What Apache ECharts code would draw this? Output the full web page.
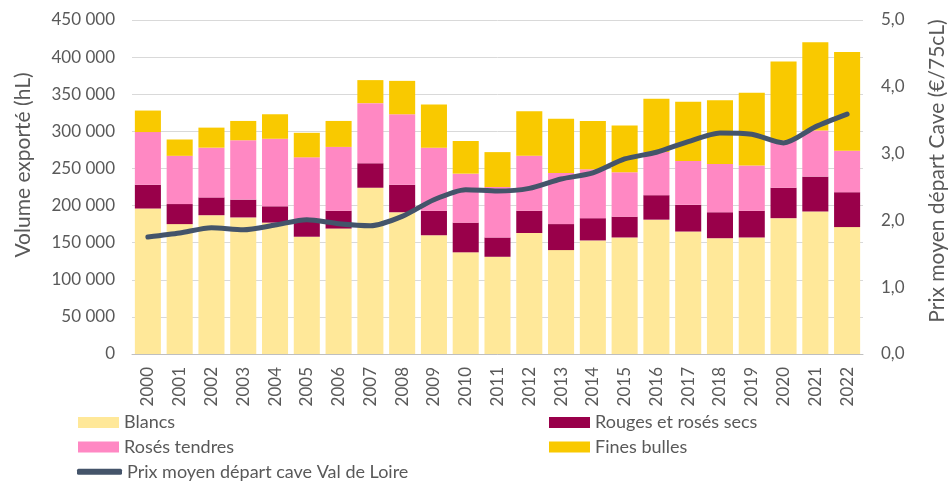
<!DOCTYPE html>
<html><head><meta charset="utf-8">
<script src="https://cdn.jsdelivr.net/npm/echarts@6/dist/echarts.min.js"></script>
<style>html,body{margin:0;padding:0;background:#fff}#c{width:949px;height:481px}</style>
</head><body><div id="c"></div>
<script>
const years = ['2000','2001','2002','2003','2004','2005','2006','2007','2008','2009','2010','2011','2012','2013','2014','2015','2016','2017','2018','2019','2020','2021','2022'];
const blancs = [196000,175000,187000,184000,177000,158000,169000,224000,191000,160000,137000,131000,163000,140000,153000,157000,181000,165000,156000,157000,183000,192000,171000];
const rouges = [32000,27000,24000,24000,22000,21000,24000,33000,37000,33000,40000,26000,30000,35000,30000,28000,33000,36000,35000,36000,41000,47000,47000];
const roses = [71000,65000,67000,80000,91000,86000,86000,81000,95000,85000,66000,68000,74000,69000,66000,60000,58000,59000,65000,61000,64000,62000,56000];
const bulles = [29000,22000,27000,26000,33000,33000,35000,31000,45000,58000,44000,47000,60000,73000,65000,63000,72000,80000,86000,98000,106000,119000,133000];
const prix = [1.75,1.81,1.89,1.86,1.93,2.01,1.95,1.92,2.06,2.31,2.46,2.44,2.48,2.62,2.71,2.92,3.02,3.18,3.31,3.29,3.16,3.40,3.59];

const FONT = 'Lato';
const GREY = '#595959';
const chart = echarts.init(document.getElementById('c'));
const barS = (name, data, color) => ({name, type:'bar', stack:'v', data, barCategoryGap:'18%', itemStyle:{color}, emphasis:{disabled:true}});
const legText = {color:GREY,fontSize:18,fontFamily:FONT};
chart.setOption({
  animation:false,
  textStyle:{fontFamily:FONT},
  grid:{left:132,right:86,top:20,bottom:127},
  xAxis:{type:'category', data:years, axisTick:{show:false},
    axisLine:{lineStyle:{color:'#BFBFBF',width:1}},
    axisLabel:{rotate:90, margin:13, color:GREY, fontSize:17, fontFamily:FONT}},
  yAxis:[
    {type:'value', min:0, max:450000, interval:50000,
     axisLabel:{color:GREY, fontSize:17, fontFamily:FONT, margin:17,
       formatter:v=>String(v).replace(/\B(?=(\d{3})+(?!\d))/g,' ')},
     splitLine:{lineStyle:{color:'#D9D9D9',width:1}}, axisLine:{show:false}, axisTick:{show:false}},
    {type:'value', min:0, max:5, interval:1, position:'right', alignTicks:false,
     axisLabel:{color:GREY, fontSize:17, fontFamily:FONT, margin:18,
       formatter:v=>v.toFixed(1).replace('.',',')},
     splitLine:{show:false}, axisLine:{show:false}, axisTick:{show:false}}
  ],
  legend:[
    {left:78, top:413.5, padding:0, orient:'vertical', itemGap:6.5, itemWidth:41, itemHeight:11, icon:'rect',
     textStyle:legText, data:['Blancs','Rosés tendres'], selectedMode:false},
    {left:549, top:413.5, padding:0, orient:'vertical', itemGap:6.5, itemWidth:41, itemHeight:11, icon:'rect',
     textStyle:legText, data:['Rouges et rosés secs','Fines bulles'], selectedMode:false},
    {left:77, top:462.7, padding:0, orient:'vertical', itemWidth:45, itemHeight:6, icon:'roundRect',
     textStyle:legText, data:['Prix moyen départ cave Val de Loire'], selectedMode:false}
  ],
  graphic:[
    {type:'text', x:23, y:165, rotation:Math.PI/2,
     style:{text:'Volume exporté (hL)', fill:GREY, font:'21px Lato', align:'center', verticalAlign:'middle'}},
    {type:'text', x:937, y:171, rotation:Math.PI/2,
     style:{text:'Prix moyen départ Cave (€/75cL)', fill:GREY, font:'21px Lato', align:'center', verticalAlign:'middle'}}
  ],
  series:[
    barS('Blancs', blancs, '#FFE899'),
    barS('Rouges et rosés secs', rouges, '#99004A'),
    barS('Rosés tendres', roses, '#FF88C3'),
    barS('Fines bulles', bulles, '#F9C900'),
    {name:'Prix moyen départ cave Val de Loire', type:'line', yAxisIndex:1, data:prix,
     smooth:0.25, symbol:'none', lineStyle:{color:'#44546A', width:5, cap:'round', join:'round'},
     itemStyle:{color:'#44546A'}, emphasis:{disabled:true}, z:5}
  ]
});
</script></body></html>
